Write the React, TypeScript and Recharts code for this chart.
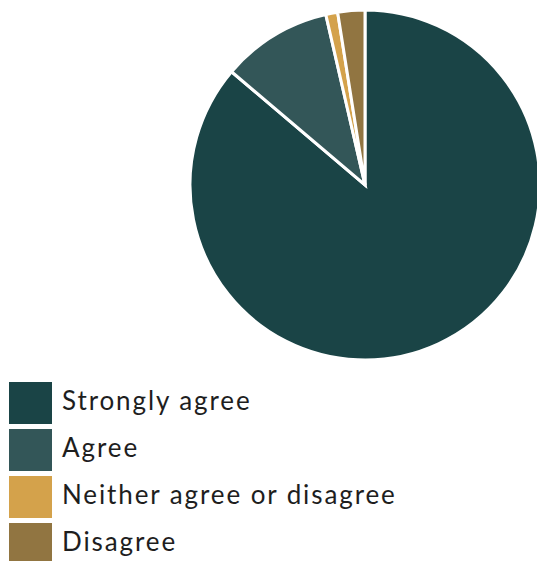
import React from 'react';
import { PieChart, Pie, Cell } from 'recharts';

// survey answers, share of respondents (%)
const labels = ['Strongly agree', 'Agree', 'Neither agree or disagree', 'Disagree'];
const shares = [86.2, 10.2, 1.1, 2.5];
const COLORS = ['#1a4446', '#335658', '#d4a24b', '#917541'];

const data = labels.map((name, i) => ({ name, value: shares[i] }));

export default function App() {
  return (
    <div style={{ position: 'absolute', left: 0, top: 0, width: 537, height: 561, background: '#fff' }}>
      <PieChart width={537} height={372} margin={{ top: 0, right: 0, bottom: 0, left: 0 }}>
        <Pie
          data={data}
          dataKey="value"
          nameKey="name"
          cx={365}
          cy={185}
          outerRadius={175}
          startAngle={90}
          endAngle={-270}
          stroke="#fff"
          strokeWidth={3}
          isAnimationActive={false}
        >
          {data.map((d, i) => (
            <Cell key={d.name} fill={COLORS[i]} />
          ))}
        </Pie>
      </PieChart>

      {/* legend */}
      <div style={{ position: 'absolute', left: 9, top: 379 }}>
        {data.map((d, i) => (
          <div key={d.name} style={{ display: 'flex', alignItems: 'center', height: 47 }}>
            <div style={{ width: 43, height: 42, background: COLORS[i] }} />
            <span
              style={{
                marginLeft: 10,
                fontFamily: 'Lato, sans-serif',
                fontSize: 26,
                letterSpacing: 1.9,
                color: '#1e1e1e',
                position: 'relative',
                top: -3,
              }}
            >
              {d.name}
            </span>
          </div>
        ))}
      </div>
    </div>
  );
}
